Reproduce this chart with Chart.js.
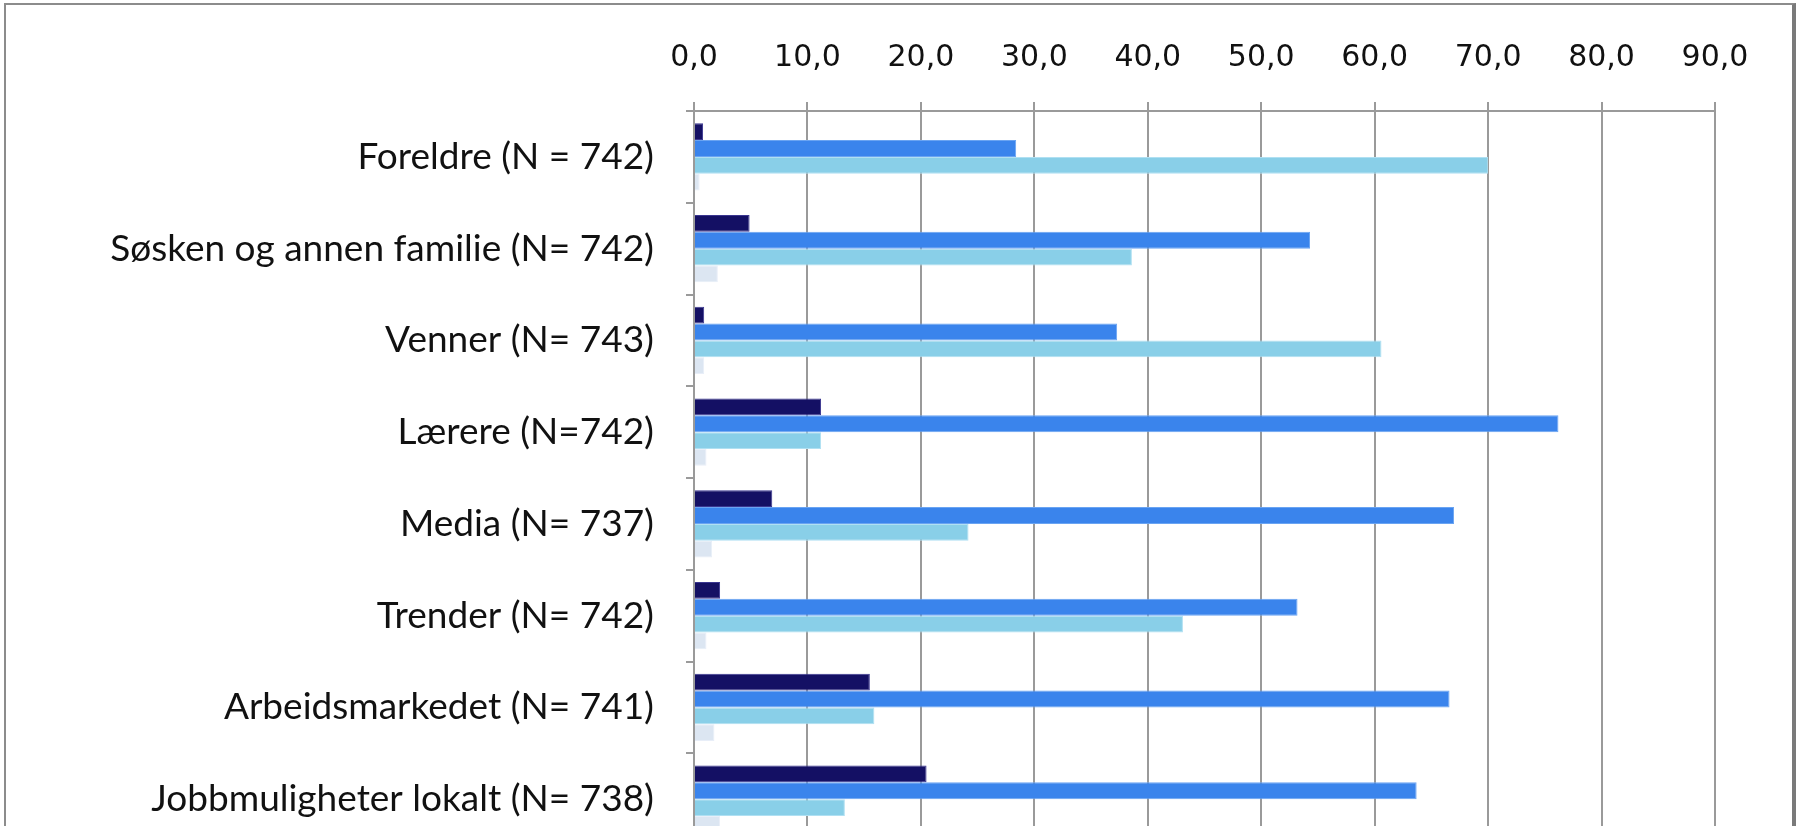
<!DOCTYPE html>
<html>
<head>
<meta charset="utf-8">
<script src="https://cdn.jsdelivr.net/npm/chart.js@4/dist/chart.umd.min.js"></script>
<style>
  html, body { margin: 0; padding: 0; background: #fff; overflow: hidden; }
  #frame {
    position: absolute; left: 4px; top: 3px; width: 1786px; height: 900px;
    border-top: 2px solid #8c8c8c; border-left: 2px solid #8c8c8c;
    border-right: 4px solid #7a7a7a;
  }
  #wrap { position: absolute; left: 0; top: 0; width: 1799px; height: 876px; }
</style>
</head>
<body>
<div id="frame"></div>
<div id="wrap"><canvas id="chart"></canvas></div>
<script>
// categories (top to bottom)
var categories = [
  'Foreldre (N = 742)',
  'Søsken og annen familie (N= 742)',
  'Venner (N= 743)',
  'Lærere (N=742)',
  'Media (N= 737)',
  'Trender (N= 742)',
  'Arbeidsmarkedet (N= 741)',
  'Jobbmuligheter lokalt (N= 738)'
];

// four answer groups, percent
var series1 = [0.8, 4.9, 0.9, 11.2, 6.9, 2.3, 15.5, 20.5];
var series2 = [28.4, 54.3, 37.3, 76.2, 67.0, 53.2, 66.6, 63.7];
var series3 = [70.0, 38.6, 60.6, 11.2, 24.2, 43.1, 15.9, 13.3];
var series4 = [0.5, 2.1, 0.9, 1.1, 1.6, 1.1, 1.8, 2.3];

var xTicks = [0, 10, 20, 30, 40, 50, 60, 70, 80, 90];

var colors = ['#141064', '#3a84ec', '#89cfe8', '#dce6f2'];
var borders = ['#3a3690', '#6aa4f2', '#b0e0f2', '#e8eef8'];

function ds(data, i) {
  return {
    data: data,
    backgroundColor: colors[i],
    borderColor: borders[i],
    borderWidth: 1,
    categoryPercentage: 0.733,
    barPercentage: 1.0
  };
}

var ctx = document.getElementById('chart').getContext('2d');
var chart = new Chart(ctx, {
  type: 'bar',
  data: {
    labels: categories,
    datasets: [ds(series1, 0), ds(series2, 1), ds(series3, 2), ds(series4, 3)]
  },
  options: {
    indexAxis: 'y',
    responsive: true,
    maintainAspectRatio: false,
    animation: false,
    events: [],
    layout: { padding: { left: 0, right: 84, top: 0, bottom: 31 } },
    plugins: { legend: { display: false }, tooltip: { enabled: false } },
    scales: {
      x: {
        position: 'top',
        min: 0,
        max: 90,
        afterFit: function (scale) { scale.height = 111; },
        afterBuildTicks: function (scale) {
          scale.ticks = xTicks.map(function (v) { return { value: v }; });
        },
        ticks: {
          padding: 26,
          color: '#111',
          font: { family: 'DejaVu Sans', size: 30 },
          maxRotation: 0,
          callback: function (v) { return v.toFixed(1).replace('.', ','); }
        },
        grid: { color: '#9a9a9a', lineWidth: 2, tickLength: 9 },
        border: { color: '#9a9a9a', width: 2 }
      },
      y: {
        afterFit: function (scale) {
          scale.width = 694;
          scale.paddingTop = 0;
          scale.paddingBottom = 0;
        },
        ticks: {
          padding: 32,
          color: '#111',
          font: { family: 'Lato', size: 37 }
        },
        grid: { drawOnChartArea: false, color: '#9a9a9a', lineWidth: 2, tickLength: 8, offset: true },
        border: { color: '#9a9a9a', width: 2 }
      }
    }
  }
});
</script>
</body>
</html>
